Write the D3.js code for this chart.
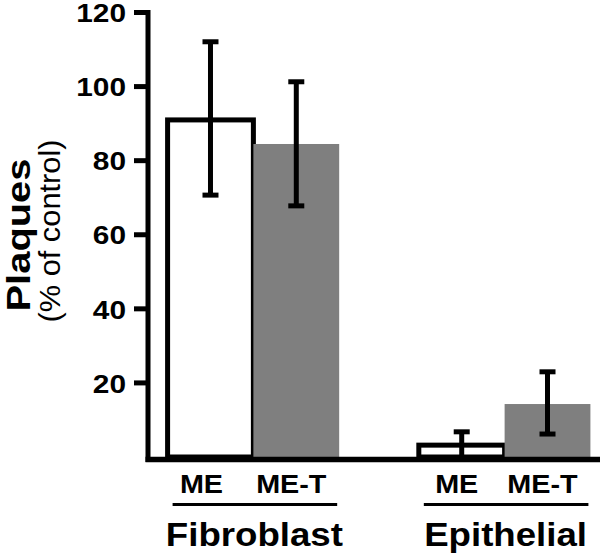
<!DOCTYPE html>
<html>
<head>
<meta charset="utf-8">
<script src="https://cdn.jsdelivr.net/npm/d3@7"></script>
<style>
  html, body { margin: 0; padding: 0; background: #fff; }
  svg { display: block; }
  text { font-family: "Liberation Sans", Arial, Helvetica, sans-serif; fill: #000; }
</style>
</head>
<body>
<svg id="chart" width="600" height="556"></svg>
<script>
// ---- data ----
const groups = ["Fibroblast", "Epithelial"];
const treatments = ["ME", "ME-T"];
const values = {            // mean plaques (% of control)
  "Fibroblast": [91.0, 84.5],
  "Epithelial": [3.2, 14.3]
};
const errLow  = { "Fibroblast": [70.7, 67.8], "Epithelial": [0.0, 6.2] };
const errHigh = { "Fibroblast": [112.1, 101.3], "Epithelial": [6.8, 23.0] };
const yTicks = [20, 40, 60, 80, 100, 120];
const yTitle = "Plaques";
const ySubTitle = "(% of control)";

// ---- layout ----
const svg = d3.select("#chart");
const stretch = 1.15;
const y = d3.scaleLinear().domain([0, 120]).range([457, 12.5]);
const xGroup = d3.scaleBand().domain(groups).range([148, 610])
  .paddingInner(0.317).paddingOuter(0.078);
const xSub = d3.scaleBand().domain(treatments).range([0, xGroup.bandwidth()]);
const fills = { "ME": "#ffffff", "ME-T": "#7f7f7f" };

const rows = [];
groups.forEach(g => treatments.forEach((t, i) => rows.push({
  g, t, v: values[g][i], lo: errLow[g][i], hi: errHigh[g][i]
})));

// bars: outlined white first, then grey
const order = rows.slice().sort((a, b) => (a.t === "ME" ? 0 : 1) - (b.t === "ME" ? 0 : 1));
svg.append("g").selectAll("rect").data(order).join("rect")
  .attr("x", d => xGroup(d.g) + xSub(d.t))
  .attr("y", d => y(d.v))
  .attr("width", xSub.bandwidth())
  .attr("height", d => y(0) - y(d.v))
  .attr("fill", d => fills[d.t])
  .attr("stroke", d => d.t === "ME" ? "#000" : "none")
  .attr("stroke-width", 5);

// error bars
const cx = d => xGroup(d.g) + xSub(d.t) + xSub.bandwidth() / 2;
const eg = svg.append("g").attr("stroke", "#000").attr("stroke-width", 5).attr("fill", "none");
rows.forEach(d => {
  const x = cx(d);
  eg.append("line").attr("x1", x).attr("x2", x).attr("y1", y(d.hi)).attr("y2", y(d.lo));
  eg.append("line").attr("x1", x - 8).attr("x2", x + 8).attr("y1", y(d.hi)).attr("y2", y(d.hi));
  if (d.lo > 0) eg.append("line").attr("x1", x - 8).attr("x2", x + 8).attr("y1", y(d.lo)).attr("y2", y(d.lo));
});

// axes
const ax = svg.append("g").attr("stroke", "#000").attr("fill", "none");
ax.append("line").attr("x1", 148).attr("x2", 148).attr("y1", y(120) - 2.5).attr("y2", y(0) + 5)
  .attr("stroke-width", 5);
ax.append("line").attr("x1", 145.5).attr("x2", 600).attr("y1", y(0) + 2.5).attr("y2", y(0) + 2.5)
  .attr("stroke-width", 5.5);
ax.selectAll("line.tick").data(yTicks).join("line").attr("class", "tick")
  .attr("x1", 134).attr("x2", 150).attr("y1", d => y(d)).attr("y2", d => y(d))
  .attr("stroke-width", 5);

function stretchText(sel, k) {
  sel.each(function () {
    const w = this.getComputedTextLength();
    d3.select(this).attr("textLength", w * k).attr("lengthAdjust", "spacingAndGlyphs");
  });
}

svg.append("g").selectAll("text").data(yTicks).join("text")
  .attr("x", 126).attr("y", d => y(d)).attr("dy", "0.38em")
  .attr("text-anchor", "end").attr("font-size", 25.5).attr("font-weight", "bold")
  .text(d => d).call(stretchText, 1.17);

// treatment labels
svg.append("g").selectAll("text").data(rows).join("text")
  .attr("x", d => cx(d) - (d.t === "ME" && d.g === groups[0] ? 9 : 5)).attr("y", 493)
  .attr("text-anchor", "middle").attr("font-size", 25).attr("font-weight", "bold")
  .text(d => d.t).call(stretchText, stretch);

// group underline + labels
svg.append("g").selectAll("line").data(groups).join("line")
  .attr("x1", d => xGroup(d) + 5).attr("x2", d => xGroup(d) + xGroup.bandwidth() - 2)
  .attr("y1", 504.5).attr("y2", 504.5).attr("stroke", "#000").attr("stroke-width", 3);
svg.append("g").selectAll("text").data(groups).join("text")
  .attr("x", d => xGroup(d) + xGroup.bandwidth() / 2 + 1).attr("y", 546)
  .attr("text-anchor", "middle").attr("font-size", 33).attr("font-weight", "bold")
  .text(d => d).call(stretchText, 1.11);

// y title
svg.append("text").attr("transform", "translate(30,235) rotate(-90)")
  .attr("text-anchor", "middle").attr("font-size", 33).attr("font-weight", "bold")
  .attr("textLength", 153).attr("lengthAdjust", "spacingAndGlyphs")
  .text(yTitle);
svg.append("text").attr("transform", "translate(60,231) rotate(-90)")
  .attr("text-anchor", "middle").attr("font-size", 29)
  .attr("textLength", 183).attr("lengthAdjust", "spacingAndGlyphs")
  .text(ySubTitle);
</script>
</body>
</html>
